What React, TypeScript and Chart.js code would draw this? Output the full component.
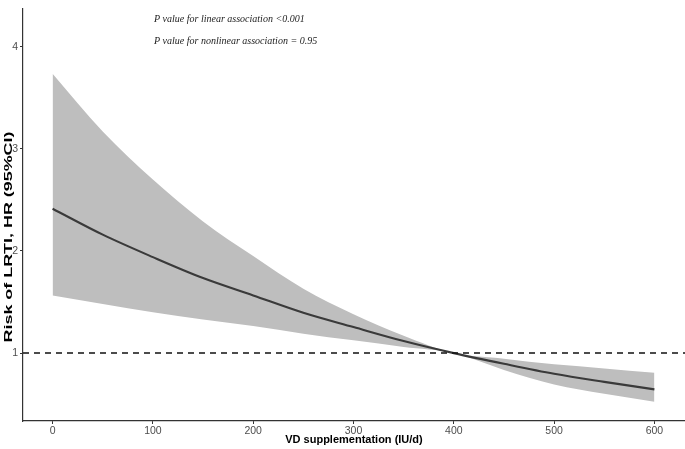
import React, { useEffect, useRef } from "react";
import { Chart, registerables } from "chart.js";

Chart.register(...registerables);

// Dose of vitamin D supplementation (IU/d)
const doses = [0, 50, 100, 150, 200, 250, 300, 350, 400, 450, 500, 550, 600];
// Hazard ratio estimate and 95% CI
const hrEstimate = [2.414, 2.16, 1.94, 1.735, 1.565, 1.395, 1.255, 1.118, 1.0, 0.895, 0.797, 0.718, 0.645];
const hrUpper = [3.737, 3.17, 2.7, 2.29, 1.95, 1.63, 1.38, 1.17, 1.0, 0.945, 0.89, 0.85, 0.808];
const hrLower = [1.565, 1.48, 1.4, 1.33, 1.265, 1.19, 1.125, 1.06, 1.0, 0.835, 0.693, 0.602, 0.523];

const xTicks = [0, 100, 200, 300, 400, 500, 600];
const yTicks = [1, 2, 3, 4];
const referenceHR = 1;
const xRange = [-29.5, 630.5];
const yRange = [0.335, 4.377];

const xTitle = "VD supplementation (IU/d)";
const yTitle = "Risk of LRTI, HR (95%CI)";
const annotations = [
  "P value for linear association <0.001",
  "P value for nonlinear association = 0.95",
];

const SANS = '"Liberation Sans", Arial, sans-serif';
const SERIF = '"Liberation Serif", "Times New Roman", serif';

const annotationPlugin = {
  id: "pAnnotations",
  afterDraw(chart: any) {
    const ctx = chart.ctx;
    ctx.save();
    ctx.font = `italic 10px ${SERIF}`;
    ctx.fillStyle = "#222222";
    ctx.textBaseline = "middle";
    ctx.textAlign = "left";
    ctx.fillText(annotations[0], 154, 19);
    ctx.fillText(annotations[1], 154, 41);
    ctx.restore();

    // y-axis title (stretched along its length as in the reference)
    ctx.save();
    ctx.font = `bold 11px ${SANS}`;
    ctx.fillStyle = "#000000";
    ctx.textBaseline = "middle";
    ctx.textAlign = "center";
    const w = ctx.measureText(yTitle).width;
    const stretch = 211 / w;
    ctx.translate(8.5, 237);
    ctx.rotate(-Math.PI / 2);
    ctx.scale(stretch, 1);
    ctx.fillText(yTitle, 0, 0);
    ctx.restore();
  },
};

export default function App() {
  const canvasRef = useRef<HTMLCanvasElement | null>(null);

  useEffect(() => {
    if (!canvasRef.current) return;
    const toPts = (ys: number[]) => doses.map((d, i) => ({ x: d, y: ys[i] }));
    const chart = new Chart(canvasRef.current, {
      type: "line",
      data: {
        datasets: [
          {
            label: "upper",
            data: toPts(hrUpper),
            borderWidth: 0,
            borderColor: "rgba(0,0,0,0)",
            backgroundColor: "#BEBEBE",
            pointRadius: 0,
            fill: "+1",
            cubicInterpolationMode: "monotone",
            order: 3,
          },
          {
            label: "lower",
            data: toPts(hrLower),
            borderWidth: 0,
            borderColor: "rgba(0,0,0,0)",
            pointRadius: 0,
            fill: false,
            cubicInterpolationMode: "monotone",
            order: 4,
          },
          {
            label: "estimate",
            data: toPts(hrEstimate),
            borderColor: "#3a3a3a",
            borderWidth: 2.1,
            pointRadius: 0,
            fill: false,
            cubicInterpolationMode: "monotone",
            order: 2,
          },
          {
            label: "reference",
            data: [
              { x: xRange[0], y: referenceHR },
              { x: xRange[1], y: referenceHR },
            ],
            borderColor: "#111111",
            borderWidth: 1.5,
            borderDash: [6, 5],
            pointRadius: 0,
            fill: false,
            order: 1,
          },
        ],
      },
      options: {
        responsive: false,
        animation: false,
        layout: { padding: 0 },
        plugins: {
          legend: { display: false },
          tooltip: { enabled: false },
          title: { display: false },
        },
        scales: {
          x: {
            type: "linear",
            min: xRange[0],
            max: xRange[1],
            afterBuildTicks: (scale: any) => {
              scale.ticks = xTicks.map((v) => ({ value: v }));
            },
            afterFit: (scale: any) => {
              scale.height = 28;
            },
            grid: {
              drawOnChartArea: false,
              drawTicks: true,
              tickLength: 3,
              color: "#333333",
              lineWidth: 1,
            },
            border: { display: true, color: "#333333", width: 1.2 },
            ticks: {
              color: "#4D4D4D",
              font: { family: SANS, size: 10.5 },
              padding: 1,
              autoSkip: false,
              maxRotation: 0,
            },
            title: {
              display: true,
              text: xTitle,
              color: "#000000",
              font: { family: SANS, size: 11, weight: "bold" },
              padding: { top: 0, bottom: 2 },
            },
          },
          y: {
            type: "linear",
            position: "left",
            min: yRange[0],
            max: yRange[1],
            afterBuildTicks: (scale: any) => {
              scale.ticks = yTicks.map((v) => ({ value: v }));
            },
            afterFit: (scale: any) => {
              scale.width = 23;
            },
            grid: {
              drawOnChartArea: false,
              drawTicks: true,
              tickLength: 3,
              color: "#333333",
              lineWidth: 1,
            },
            border: { display: true, color: "#333333", width: 1.2 },
            ticks: {
              color: "#4D4D4D",
              font: { family: SANS, size: 10.5 },
              padding: 2,
              autoSkip: false,
            },
            title: { display: false },
          },
        },
      },
      plugins: [annotationPlugin],
    } as any);
    return () => chart.destroy();
  }, []);

  return (
    <div style={{ position: "fixed", left: 0, top: 0, width: 685, height: 449, background: "#ffffff" }}>
      <canvas ref={canvasRef} width={685} height={449} style={{ display: "block" }} />
    </div>
  );
}
